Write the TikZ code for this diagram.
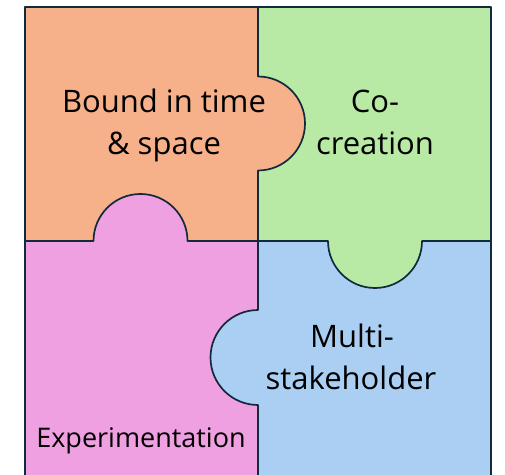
\documentclass[tikz,border=0pt]{standalone}
\usepackage{fontspec}
\setmainfont{Open Sans}
\definecolor{porange}{HTML}{F6B08A}
\definecolor{pgreen}{HTML}{B8EAA6}
\definecolor{ppink}{HTML}{EEA0E0}
\definecolor{pblue}{HTML}{ABCFF3}
\definecolor{pline}{HTML}{112A3C}
\tikzset{
  edge/.style={draw=pline, line width=1.7pt, line join=round},
  lbl/.style={anchor=base, inner sep=0pt, font=\fontsize{31}{36}\selectfont, text=black},
  lblsmall/.style={anchor=base, inner sep=0pt, font=\fontsize{27}{31}\selectfont, text=black}
}
\begin{document}
\begin{tikzpicture}[x=1pt,y=1pt]
\useasboundingbox (0,0) rectangle (505,474);
\fill[white] (0,0) rectangle (505,474);
% quadrants
\fill[porange] (25,233) rectangle (258,467);
\fill[pgreen] (258,233) rectangle (491,467);
\fill[ppink] (25,-2) rectangle (258,233);
\fill[pblue] (258,-2) rectangle (491,233);
% knobs
\fill[porange] (258,397.5) arc[start angle=90, end angle=-90, radius=47] -- cycle;
\fill[ppink] (93.5,233) arc[start angle=180, end angle=0, radius=47] -- cycle;
\fill[pgreen] (328,233) arc[start angle=180, end angle=360, radius=47] -- cycle;
\fill[pblue] (258,164) arc[start angle=90, end angle=270, radius=47.5] -- cycle;
% dividing lines
\draw[edge] (258,467) -- (258,397.5) arc[start angle=90, end angle=-90, radius=47] -- (258,233);
\draw[edge] (25,233) -- (93.5,233) arc[start angle=180, end angle=0, radius=47] -- (258,233);
\draw[edge] (258,233) -- (328,233) arc[start angle=180, end angle=360, radius=47] -- (491,233);
\draw[edge] (258,233) -- (258,164) arc[start angle=90, end angle=270, radius=47.5] -- (258,-2);
% outer border
\draw[edge] (25,-2) rectangle (491,467);
% labels
\node[lbl] (b1) at (164,361) {Bound in time};
\node[lbl] (b2) at (164,319) {\& space};
\node[lbl] (c1) at (375,361) {Co-};
\node[lbl] (c2) at (375,319) {creation};
\node[lbl] (m1) at (352,127) {Multi-};
\node[lbl] (m2) at (351,85) {stakeholder};
\node[lblsmall] (e1) at (141,27) {Experimentation};
\end{tikzpicture}
\end{document}
